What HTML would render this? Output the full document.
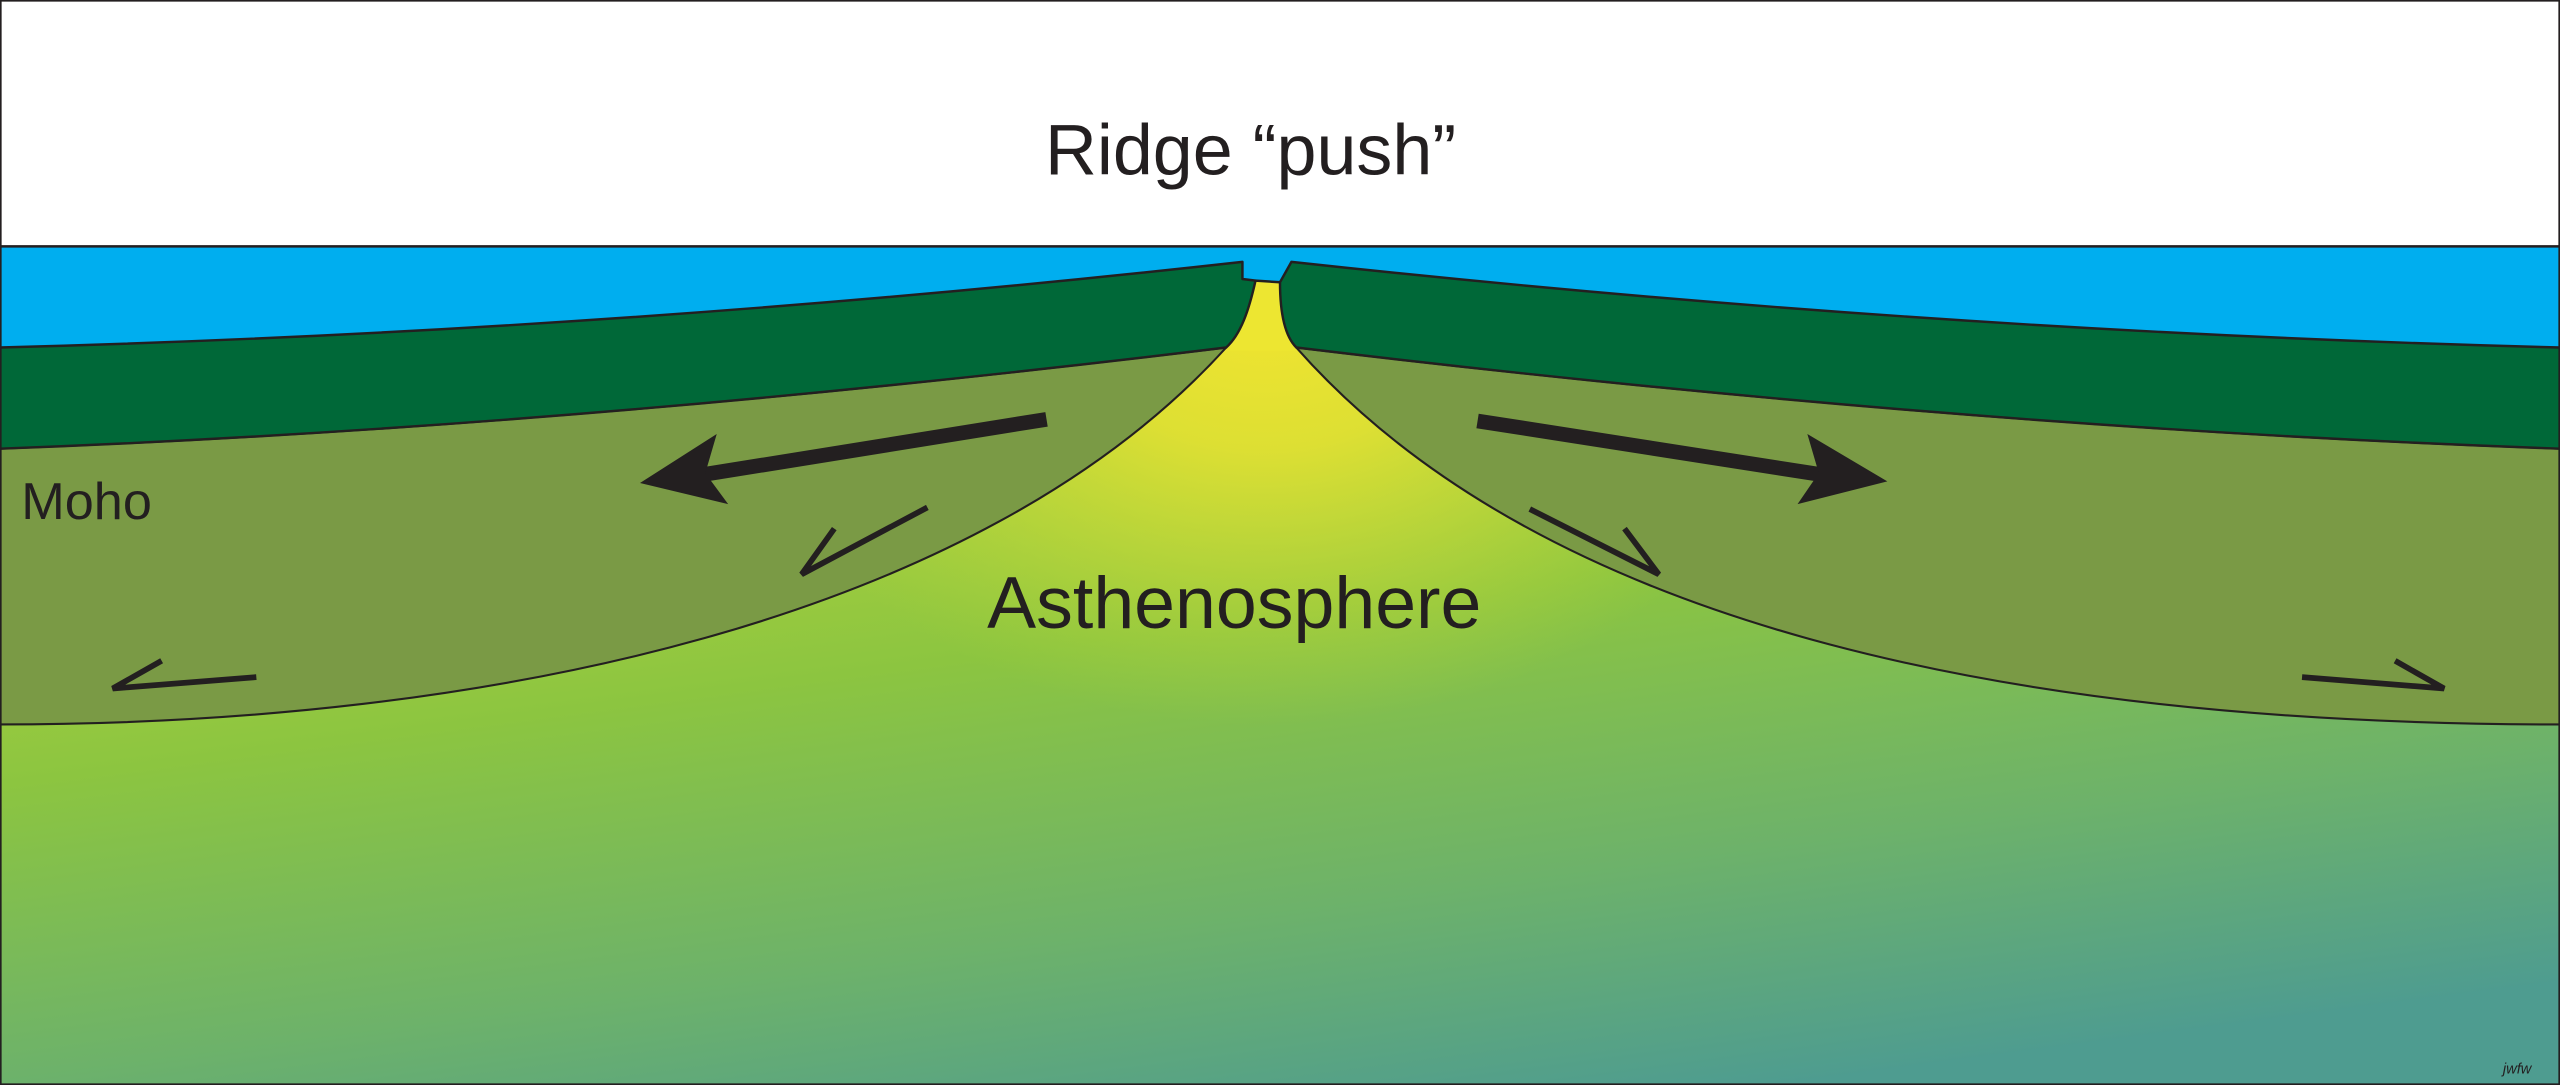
<!DOCTYPE html>
<html><head><meta charset="utf-8"><style>
html,body{margin:0;padding:0;background:#fff;}
svg{display:block;}
</style></head><body>
<svg width="2560" height="1085" viewBox="0 0 1568 665" preserveAspectRatio="none" xmlns="http://www.w3.org/2000/svg">
<defs>
<linearGradient id="bg" x1="0.3" y1="0" x2="0.7" y2="1">
<stop offset="0" stop-color="#c8dc3a"/>
<stop offset="0.45" stop-color="#8cc540"/>
<stop offset="0.75" stop-color="#6db26a"/>
<stop offset="1" stop-color="#4e9c90"/>
</linearGradient>
<radialGradient id="yl" cx="775" cy="185" r="260" gradientUnits="userSpaceOnUse" gradientTransform="translate(775 185) scale(1.3 1) translate(-775 -185)">
<stop offset="0" stop-color="#f3e52f" stop-opacity="1"/>
<stop offset="0.35" stop-color="#e3e132" stop-opacity="0.9"/>
<stop offset="1" stop-color="#b8d83a" stop-opacity="0"/>
</radialGradient>
</defs>
<rect x="0" y="0" width="1568" height="665" fill="#fff"/>
<rect x="0" y="151" width="1568" height="514" fill="url(#bg)"/>
<rect x="0" y="151" width="1568" height="400" fill="url(#yl)"/>
<rect x="0" y="151" width="1568" height="62" fill="#00aeef"/>
<!-- ridge magma -->
<path d="M767,172 L786,173 C784,192 787,206 796,215 L749,215 C760,205 765,190 767,172 Z" fill="#ede631"/>
<line x1="0" y1="151" x2="1568" y2="151" stroke="#231f20" stroke-width="1.5"/>
<!-- left lithosphere -->
<path d="M751,213 C600,380 300,444 0,444 L0,275 Q350,262 751,213 Z" fill="#7a9a45" stroke="#231f20" stroke-width="1.3"/>
<!-- right lithosphere -->
<path d="M794,213 C950,390 1250,444 1568,444 L1568,275 Q1200,262 794,213 Z" fill="#7a9a45" stroke="#231f20" stroke-width="1.3"/>
<!-- left crust -->
<path d="M0,213 Q380,203 761,160.5 L761,171 L769,172 C765,190 760,205 751,213 Q350,262 0,275 Z" fill="#006838" stroke="#231f20" stroke-width="1.5" stroke-linejoin="round"/>
<!-- right crust -->
<path d="M1568,213 Q1180,203 791,160.5 L784,173 C784,192 787,206 794,213 Q1200,262 1568,275 Z" fill="#006838" stroke="#231f20" stroke-width="1.5" stroke-linejoin="round"/>
<line x1="769" y1="172" x2="784" y2="173" stroke="#231f20" stroke-width="1.5"/>
<!-- big arrows -->
<line x1="641" y1="257" x2="430" y2="291" stroke="#231f20" stroke-width="9"/>
<polygon points="392,296 439,266 432,290 446,309" fill="#231f20"/>
<line x1="905" y1="258" x2="1116" y2="291" stroke="#231f20" stroke-width="9"/>
<polygon points="1156,295 1107,266 1114,290 1101,309" fill="#231f20"/>
<!-- half arrows -->
<g fill="none" stroke="#231f20" stroke-width="3.5">
<polyline points="568,311 491,352 511,324"/>
<polyline points="157,415 69,422 99,405"/>
<polyline points="937,312 1016,352 995,324"/>
<polyline points="1410,415 1497,422 1467,405"/>
</g>
<g font-family="'Liberation Sans',sans-serif" fill="#231f20">
<text x="766" y="107" font-size="44" text-anchor="middle">Ridge “push”</text>
<text x="13" y="318" font-size="32">Moho</text>
<text x="756" y="385" font-size="45" text-anchor="middle">Asthenosphere</text>
<text x="1533" y="658" font-size="9" font-style="italic">jwfw</text>
</g>
<rect x="0.5" y="0.5" width="1567" height="664" fill="none" stroke="#231f20" stroke-width="1"/>
</svg>
</body></html>
